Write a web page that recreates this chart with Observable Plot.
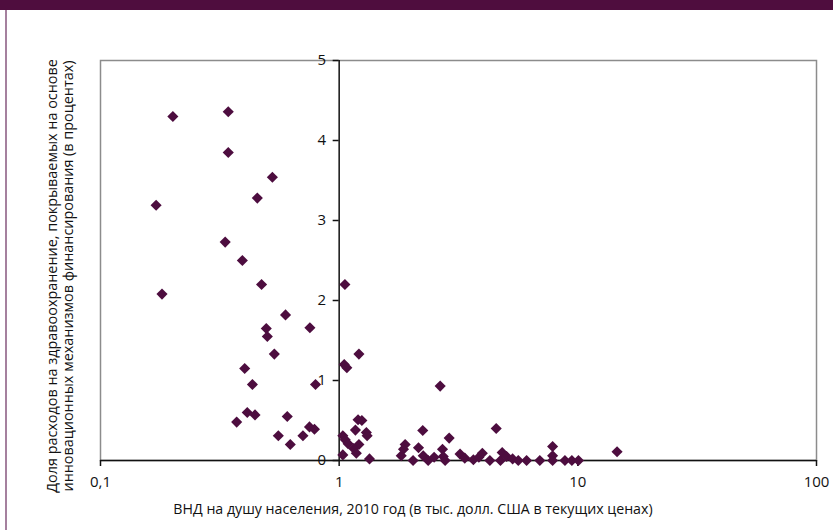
<!DOCTYPE html>
<html>
<head>
<meta charset="utf-8">
<script src="https://cdn.jsdelivr.net/npm/d3@7"></script>
<script src="https://cdn.jsdelivr.net/npm/@observablehq/plot@0.6"></script>
<style>
  html, body { margin: 0; padding: 0; background: #fff; }
  #wrap { position: relative; width: 833px; height: 530px; overflow: hidden; font-family: "Open Sans", sans-serif; }
  #banner { position: absolute; left: 0; top: 0; width: 833px; height: 10px; background: #4f0d3e; }
  #lborder { position: absolute; left: 5px; top: 10px; width: 2px; height: 520px; background: #a5809e; }
  #chart { position: absolute; left: 0; top: 0; }
  #xlabel { position: absolute; left: 100px; width: 626px; top: 500px; text-align: center; font-size: 14.2px; line-height: 18px; color: #111; white-space: nowrap; }
  #ylabel { position: absolute; left: 60px; top: 276px; width: 0; height: 0; }
  #ylabel div { position: absolute; transform: translate(-50%, -50%) rotate(-90deg); white-space: nowrap; font-size: 14.4px; line-height: 16px; text-align: center; color: #111; }
</style>
</head>
<body>
<div id="wrap">
  <div id="banner"></div>
  <div id="lborder"></div>
  <div id="chart"></div>
  <div id="xlabel"></div>
  <div id="ylabel"><div id="ylabeltext"></div></div>
</div>
<script>
const xTitle = "ВНД на душу населения, 2010 год (в тыс. долл. США в текущих ценах)";
const yTitleLines = ["Доля расходов на здравоохранение, покрываемых на основе",
                     "инновационных механизмов финансирования (в процентах)"];
const xTicks = [0.1, 1, 10, 100];
const xTickLabels = ["0,1", "1", "10", "100"];
const yTicks = [0, 1, 2, 3, 4, 5];
const yTickLabels = ["0", "1", "2", "3", "4", "5"];

// GNI per capita, thousand USD
const gni = [0.171, 0.181, 0.201, 0.343, 0.343, 0.525, 0.454, 0.333, 0.393, 0.473,
  0.596, 0.495, 0.50, 0.754, 0.535, 0.402, 0.433, 0.796, 0.412, 0.444,
  0.372, 0.606, 0.751, 0.788, 0.556, 0.705, 0.624,
  1.057, 1.05, 1.077, 1.21, 2.65, 1.20, 1.245, 1.17, 1.30, 1.31,
  1.036, 1.06, 1.09, 1.21, 1.15, 1.18, 1.036, 1.34, 2.24, 2.89,
  4.55, 1.89, 1.86, 1.82, 2.15, 2.04, 2.25, 2.36, 2.5, 2.71,
  2.73, 2.78, 3.21, 3.36, 3.65, 3.85, 3.98, 4.28, 4.74, 4.82,
  5.03, 5.33, 5.63, 6.1, 6.93, 7.84, 7.84, 7.84, 8.83, 9.44, 10.06, 14.6];
// share of health spending from innovative financing, %
const share = [3.19, 2.08, 4.3, 4.36, 3.85, 3.54, 3.28, 2.73, 2.5, 2.2,
  1.82, 1.65, 1.55, 1.66, 1.33, 1.15, 0.95, 0.95, 0.60, 0.57,
  0.48, 0.55, 0.42, 0.39, 0.31, 0.31, 0.20,
  2.2, 1.2, 1.16, 1.33, 0.93, 0.51, 0.50, 0.38, 0.35, 0.31,
  0.31, 0.26, 0.21, 0.20, 0.15, 0.09, 0.07, 0.02, 0.375, 0.28,
  0.40, 0.20, 0.14, 0.06, 0.16, 0, 0.06, 0, 0.04, 0.14,
  0.05, 0, 0.08, 0.03, 0.01, 0.04, 0.09, 0, 0, 0.10,
  0.05, 0.02, 0, 0, 0, 0.175, 0.06, 0, 0, 0, 0, 0.11];

const points = gni.map((g, i) => ({gni: g, share: share[i]}));
const purple = "#4d0d3f";

const chart = Plot.plot({
  width: 833,
  height: 530,
  marginTop: 60,
  marginBottom: 70,
  marginLeft: 100,
  marginRight: 17,
  style: {fontFamily: "Open Sans, sans-serif", fontSize: "15px", color: "#111", background: "transparent", overflow: "visible"},
  x: {type: "log", domain: [0.1, 100]},
  y: {domain: [0, 5]},
  marks: [
    Plot.frame({stroke: "#8c8c8c", strokeWidth: 1.5}),
    Plot.ruleY([0], {stroke: "#111", strokeWidth: 1.5}),
    Plot.ruleX([1], {stroke: "#111", strokeWidth: 1.5}),
    Plot.axisX({ticks: xTicks, tickFormat: d => xTickLabels[xTicks.indexOf(d)], tickSize: 6, tickPadding: 10, fontSize: 15, label: null, stroke: "#111", strokeWidth: 1.5}),
    Plot.axisY({x: 1, anchor: "left", ticks: yTicks, tickFormat: d => yTickLabels[yTicks.indexOf(d)], tickSize: 6, tickPadding: 7, fontSize: 15, label: null, stroke: "#111", strokeWidth: 1.5}),
    Plot.dot(points, {x: "gni", y: "share", symbol: "diamond2", r: 5, fill: purple, stroke: "none"})
  ]
});
document.getElementById("chart").appendChild(chart);
document.getElementById("xlabel").textContent = xTitle;
document.getElementById("ylabeltext").innerHTML = yTitleLines.join("<br>");
</script>
</body>
</html>
